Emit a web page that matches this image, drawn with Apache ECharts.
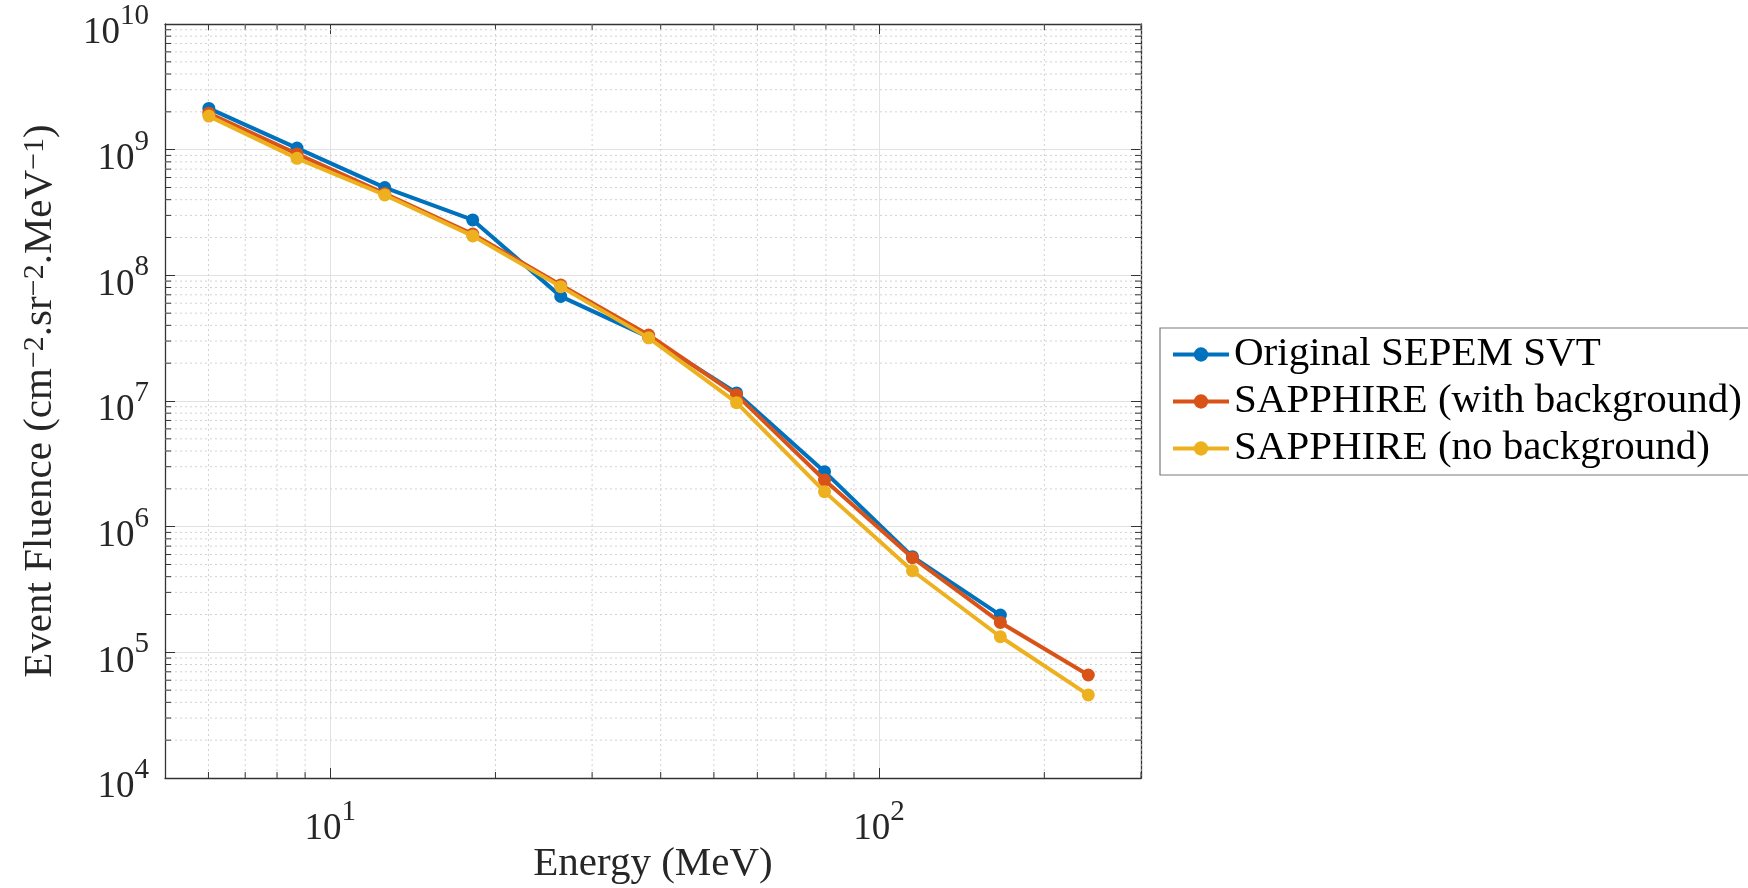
<!DOCTYPE html>
<html>
<head>
<meta charset="utf-8">
<title>Event Fluence vs Energy</title>
<script src="https://cdn.jsdelivr.net/npm/echarts@6/dist/echarts.min.js"></script>
<style>
  html, body { margin: 0; padding: 0; background: #fff; }
  #chart { width: 1748px; height: 888px; }
</style>
</head>
<body>
<div id="chart"></div>
<script>
// Energy channel centres (MeV)
const energy = [6.01, 8.70, 12.57, 18.18, 26.30, 38.03, 54.99, 79.53, 115.0, 166.3, 240.5];

// Event fluence per channel (cm^-2 sr^-1 MeV^-1)
const sepemSVT = [2.13e9, 1.03e9, 4.99e8, 2.76e8, 6.8e7, 3.22e7, 1.16e7, 2.74e6, 5.77e5, 1.98e5];
const sapphireWithBg = [1.95e9, 9.25e8, 4.48e8, 2.13e8, 8.37e7, 3.35e7, 1.12e7, 2.35e6, 5.66e5, 1.73e5, 6.6e4];
const sapphireNoBg = [1.85e9, 8.53e8, 4.36e8, 2.06e8, 8.13e7, 3.18e7, 9.7e6, 1.90e6, 4.46e5, 1.33e5, 4.58e4];

const seriesNames = ['Original SEPEM SVT', 'SAPPHIRE (with background)', 'SAPPHIRE (no background)'];
const seriesColors = ['#0072BD', '#D95319', '#EDB120'];

// Axis ranges and tick positions
const xRange = [5, 300];
const yRange = [1e4, 1e10];
const xMinorTicks = [6, 7, 8, 9, 20, 30, 40, 50, 60, 70, 80, 90, 200, 300];
const yMinorTicks = [];
for (let d = 4; d < 10; d++) {
  for (let m = 2; m <= 9; m++) yMinorTicks.push(m * Math.pow(10, d));
}

const FONT = 'Liberation Serif';
const AXIS_COLOR = '#333333';
const MAJOR_GRID = '#e1e1e1';
const MINOR_GRID = '#d2d2d2';

function pairs(xs, ys) {
  return ys.map((y, i) => [xs[i], y]);
}

// "10^n" labels, only on whole decades
function decadeLabel(v) {
  const l = Math.log10(v);
  const n = Math.round(l);
  if (Math.abs(l - n) > 1e-6) return '';
  return '{b|10}{e|' + n + '}';
}

const tickRich = {
  b: { fontFamily: FONT, fontSize: 37, color: '#262626', padding: [13, 0, 0, 0] },
  e: { fontFamily: FONT, fontSize: 29, color: '#262626', verticalAlign: 'top' }
};

// Minor grid lines and inward minor ticks on all four sides
function renderXMinor(params, api) {
  const cs = params.coordSys;
  const x = api.coord([api.value(0), yRange[0]])[0];
  return {
    type: 'group',
    children: [
      { type: 'line', shape: { x1: x, y1: cs.y, x2: x, y2: cs.y + cs.height },
        style: { stroke: MINOR_GRID, lineWidth: 1, lineDash: [2, 3] } },
      { type: 'line', shape: { x1: x, y1: cs.y + cs.height, x2: x, y2: cs.y + cs.height - 6 },
        style: { stroke: AXIS_COLOR, lineWidth: 1 } },
      { type: 'line', shape: { x1: x, y1: cs.y, x2: x, y2: cs.y + 6 },
        style: { stroke: AXIS_COLOR, lineWidth: 1 } }
    ]
  };
}
function renderYMinor(params, api) {
  const cs = params.coordSys;
  const y = api.coord([xRange[0], api.value(1)])[1];
  return {
    type: 'group',
    children: [
      { type: 'line', shape: { x1: cs.x, y1: y, x2: cs.x + cs.width, y2: y },
        style: { stroke: MINOR_GRID, lineWidth: 1, lineDash: [2, 3] } },
      { type: 'line', shape: { x1: cs.x, y1: y, x2: cs.x + 6, y2: y },
        style: { stroke: AXIS_COLOR, lineWidth: 1 } },
      { type: 'line', shape: { x1: cs.x + cs.width, y1: y, x2: cs.x + cs.width - 6, y2: y },
        style: { stroke: AXIS_COLOR, lineWidth: 1 } }
    ]
  };
}

const dataSets = [
  pairs(energy, sepemSVT),
  pairs(energy, sapphireWithBg),
  pairs(energy, sapphireNoBg)
];

const lineSeries = dataSets.map((d, i) => ({
  name: seriesNames[i],
  type: 'line',
  data: d,
  symbol: 'circle',
  symbolSize: 13,
  showSymbol: true,
  color: seriesColors[i],
  lineStyle: { width: 4, color: seriesColors[i] },
  itemStyle: { color: seriesColors[i] },
  z: 10 + i,
  animation: false
}));

const chart = echarts.init(document.getElementById('chart'), null, { renderer: 'canvas' });

const option = {
  backgroundColor: '#ffffff',
  animation: false,
  grid: { left: 165, top: 24, width: 976, height: 754, containLabel: false, outerBoundsMode: 'none' },
  legend: {
    orient: 'vertical',
    left: 1160,
    top: 328,
    padding: [6, 8, 6, 11],
    itemGap: 6,
    itemWidth: 56,
    itemHeight: 18,
    borderColor: '#7a7a7a',
    borderWidth: 1.2,
    backgroundColor: '#ffffff',
    selectedMode: false,
    data: seriesNames,
    lineStyle: { width: 4 },
    textStyle: { fontFamily: FONT, fontSize: 41, color: '#000000', lineHeight: 40 }
  },
  xAxis: [
    {
      type: 'log', logBase: 10, min: xRange[0], max: xRange[1],
      position: 'bottom',
      name: 'Energy (MeV)',
      nameLocation: 'middle',
      nameGap: 66,
      nameMoveOverlap: false,
      nameTextStyle: { fontFamily: FONT, fontSize: 41, color: '#262626', verticalAlign: 'top' },
      axisLine: { show: true, onZero: false, lineStyle: { color: AXIS_COLOR, width: 1.3 } },
      axisTick: { show: true, inside: true, length: 10, lineStyle: { color: AXIS_COLOR, width: 1 } },
      axisLabel: { show: true, margin: 20, formatter: decadeLabel, rich: tickRich, showMinLabel: false, showMaxLabel: false },
      splitLine: { show: true, lineStyle: { color: MAJOR_GRID, width: 1 } },
      minorTick: { show: false }
    },
    {
      type: 'log', logBase: 10, min: xRange[0], max: xRange[1],
      position: 'top',
      axisLine: { show: true, onZero: false, lineStyle: { color: AXIS_COLOR, width: 1.3 } },
      axisTick: { show: true, inside: true, length: 10, lineStyle: { color: AXIS_COLOR, width: 1 } },
      axisLabel: { show: false },
      splitLine: { show: false }
    }
  ],
  yAxis: [
    {
      type: 'log', logBase: 10, min: yRange[0], max: yRange[1],
      splitNumber: 6,
      position: 'left',
      name: 'Event Fluence (cm{s|−2}.sr{s|−2}.MeV{s|−1})',
      nameLocation: 'middle',
      nameRotate: 90,
      nameGap: 104,
      nameTextStyle: {
        fontFamily: FONT, fontSize: 41, color: '#262626',
        rich: {
          s: { fontFamily: FONT, fontSize: 30, color: '#262626', verticalAlign: 'top' }
        }
      },
      axisLine: { show: true, onZero: false, lineStyle: { color: AXIS_COLOR, width: 1.3 } },
      axisTick: { show: true, inside: true, length: 10, lineStyle: { color: AXIS_COLOR, width: 1 } },
      axisLabel: { show: true, margin: 16, padding: [6, 0, 0, 0], formatter: decadeLabel, rich: tickRich },
      splitLine: { show: true, lineStyle: { color: MAJOR_GRID, width: 1 } }
    },
    {
      type: 'log', logBase: 10, min: yRange[0], max: yRange[1],
      splitNumber: 6,
      position: 'right',
      axisLine: { show: true, onZero: false, lineStyle: { color: AXIS_COLOR, width: 1.3 } },
      axisTick: { show: true, inside: true, length: 10, lineStyle: { color: AXIS_COLOR, width: 1 } },
      axisLabel: { show: false },
      splitLine: { show: false }
    }
  ],
  series: [
    {
      type: 'custom',
      coordinateSystem: 'cartesian2d',
      xAxisIndex: 0, yAxisIndex: 0,
      silent: true, z: 1,
      renderItem: renderXMinor,
      data: xMinorTicks.map(v => [v, yRange[0]])
    },
    {
      type: 'custom',
      coordinateSystem: 'cartesian2d',
      xAxisIndex: 0, yAxisIndex: 0,
      silent: true, z: 1,
      renderItem: renderYMinor,
      data: yMinorTicks.map(v => [xRange[0], v])
    }
  ].concat(lineSeries)
};

chart.setOption(option);
</script>
</body>
</html>
